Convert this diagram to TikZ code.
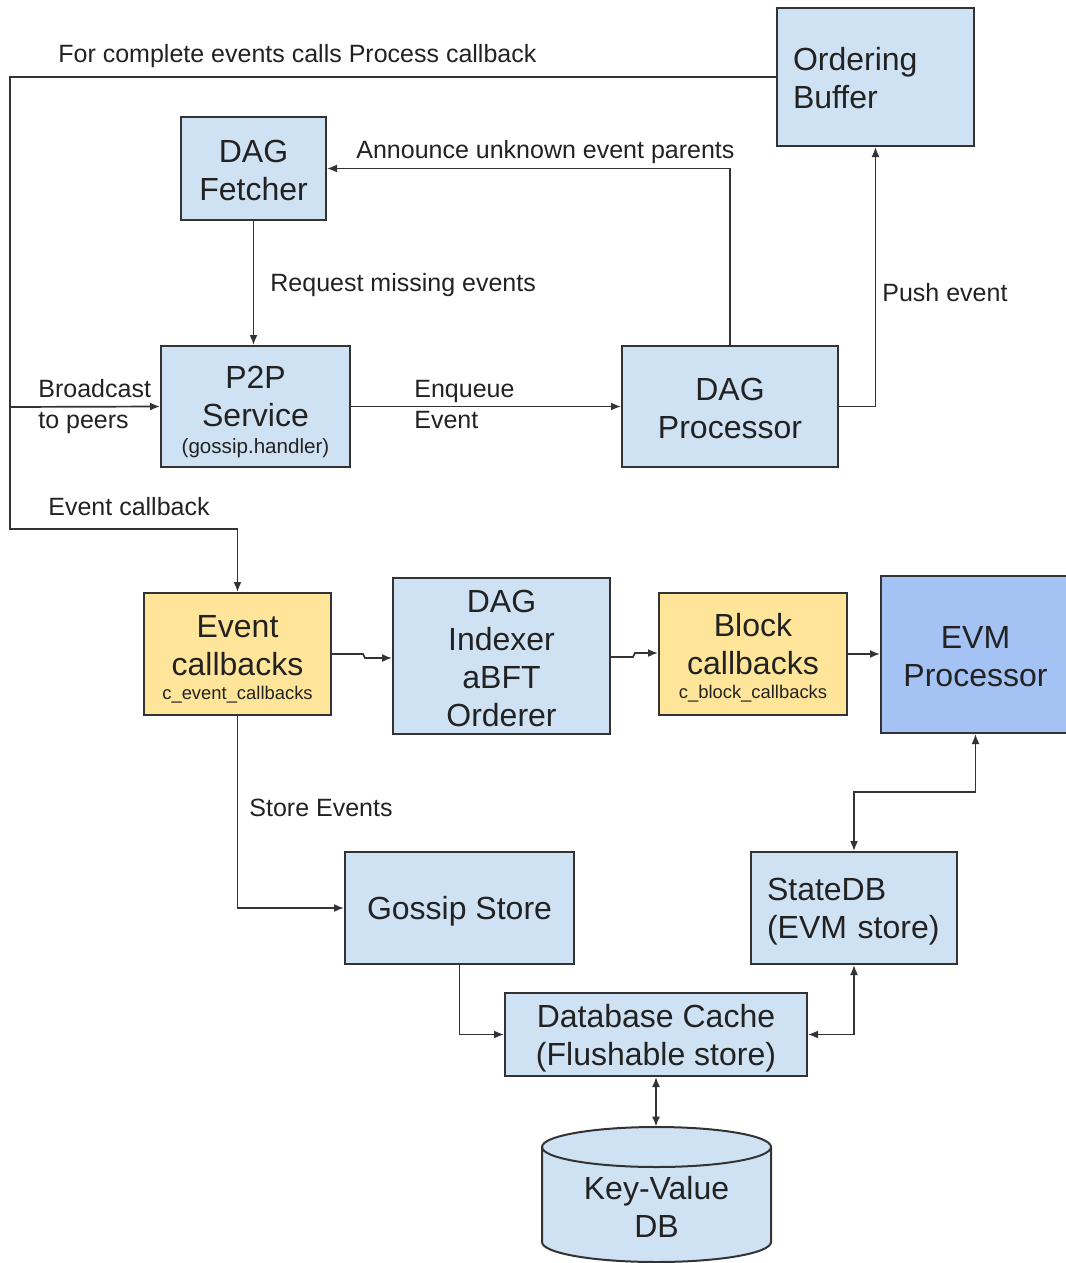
\documentclass[tikz,border=0pt]{standalone}
\usepackage{fontspec}
\setmainfont{Liberation Sans}
\usetikzlibrary{arrows.meta}
\definecolor{lblue}{HTML}{CFE2F3}
\definecolor{cblue}{HTML}{A4C2F4}
\definecolor{lyellow}{HTML}{FFE599}
\definecolor{edgecol}{HTML}{333333}
\definecolor{txt}{HTML}{222222}
\newcommand{\boxfont}{\fontsize{16}{19}\selectfont}
\newcommand{\lblfont}{\fontsize{12.5}{15.5}\selectfont}
\newcommand{\subfont}{\fontsize{10.3}{12}\selectfont}
\newcommand{\cbfont}{\fontsize{9.2}{11}\selectfont}
\begin{document}
\begin{tikzpicture}[x=0.5pt,y=-0.5pt,
  blk/.style={draw=edgecol, line width=1pt, fill=lblue, inner sep=0pt},
  bt/.style={font=\boxfont, text=txt, align=center, inner sep=0pt},
  conn/.style={draw=edgecol, line width=0.85pt, -{Latex[length=5pt,width=4pt]}},
  bidir/.style={draw=edgecol, line width=0.85pt, {Latex[length=5pt,width=4pt]}-{Latex[length=5pt,width=4pt]}},
  lbl/.style={font=\lblfont, text=txt, inner sep=0pt, anchor=west, align=left}]
\fill[white] (0,0) rectangle (1065,1263);
\useasboundingbox (0,0) rectangle (1065,1263);

% boxes
\node[blk, minimum width=98.5pt, minimum height=69pt,
  label={[bt, align=left, text width=82.5pt, yshift=-0.5pt]center:Ordering\\Buffer}] (ob) at (875.5,77) {};
\node[blk, minimum width=72.5pt, minimum height=51.5pt,
  label={[bt, yshift=-1pt]center:DAG\\Fetcher}] (df) at (253.5,168.5) {};
\node[blk, minimum width=94.5pt, minimum height=60.5pt,
  label={[bt, yshift=-2.5pt]center:P2P\\Service\\[-5.5pt]{\subfont (gossip.handler)}}] (p2p) at (255.5,406.5) {};
\node[blk, minimum width=108pt, minimum height=60.5pt,
  label={[bt, yshift=-0.75pt]center:DAG\\Processor}] (dp) at (730,406.5) {};
\node[blk, fill=lyellow, minimum width=93.5pt, minimum height=61pt,
  label={[bt, yshift=-2.5pt]center:Event\\callbacks\\[-7pt]{\cbfont c\_event\_callbacks}}] (ec) at (237.5,654) {};
\node[blk, minimum width=108.5pt, minimum height=78pt,
  label={[bt, yshift=-1pt]center:DAG\\Indexer\\aBFT\\Orderer}] (idx) at (501.5,656) {};
\node[blk, fill=lyellow, minimum width=94pt, minimum height=61pt,
  label={[bt, yshift=-2pt]center:Block\\callbacks\\[-7pt]{\cbfont c\_block\_callbacks}}] (bc) at (753,654) {};
\node[blk, fill=cblue, minimum width=94.5pt, minimum height=78.5pt,
  label={[bt, yshift=-1.25pt]center:EVM\\Processor}] (evm) at (975.5,654.5) {};
\node[blk, minimum width=114.5pt, minimum height=56pt,
  label={[bt, yshift=-1.5pt]center:Gossip Store}] (gs) at (459.5,908) {};
\node[blk, minimum width=103pt, minimum height=56pt,
  label={[bt, align=left, text width=87pt, yshift=-2pt]center:StateDB\\(EVM store)}] (sdb) at (854,908) {};
\node[blk, minimum width=151pt, minimum height=41.5pt,
  label={[bt, yshift=-2pt]center:Database Cache\\(Flushable store)}] (dbc) at (656,1034.5) {};

% cylinder
\draw[draw=edgecol, line width=1pt, fill=lblue]
  (542,1147) -- (542,1242) arc[start angle=180, end angle=360, x radius=57.25pt, y radius=10pt]
  -- (771,1147) arc[start angle=0, end angle=180, x radius=57.25pt, y radius=10pt] -- cycle;
\draw[draw=edgecol, line width=1pt] (542,1147) arc[start angle=180, end angle=360, x radius=57.25pt, y radius=10pt];
\node[minimum width=114.5pt, minimum height=67.5pt, inner sep=0pt,
  label={[bt, yshift=-6pt]center:Key-Value\\DB}] (kv) at (656.5,1194.5) {};

% connectors
\coordinate (bus) at (10,407);
\draw[conn] (ob.west) -- (10,77) -- (10,529) -| (ec.north);
\draw[conn] (bus) -- (p2p.west);
\draw[conn] (dp.north) |- (df.east);
\draw[conn] (df.south) -- (df.south |- p2p.north);
\draw[conn] (p2p.east) -- (dp.west);
\draw[conn] (dp.east) -| (ob.south);
\draw[conn] (ec.east) -- (363,654) -- (365,658) -- (idx.west |- 0,658);
\draw[conn] (idx.east |- 0,657) -- (633,657) -- (635,653) -- (bc.west |- 0,653);
\draw[conn] (bc.east) -- (evm.west |- bc.east);
\draw[conn] (ec.south) |- (gs.west);
\draw[bidir] (evm.south) -- ++(0,58) -| (sdb.north);
\draw[bidir] (sdb.south) |- (dbc.east);
\draw[conn] (gs.south) |- (dbc.west);
\draw[bidir] (dbc.south) -- (dbc.south |- kv.north);

% labels
\node[lbl] (l1) at (58,56) {For complete events calls Process callback};
\node[lbl] (l2) at (356,152) {Announce unknown event parents};
\node[lbl] (l3) at (270,285) {Request missing events};
\node[lbl] (l4) at (882,293) {Push event};
\node[lbl] (l5) at (38,406.5) {Broadcast\\to peers};
\node[lbl] (l6) at (414,404.5) {Enqueue\\Event};
\node[lbl] (l7) at (48,507) {Event callback};
\node[lbl] (l8) at (249,808) {Store Events};
\end{tikzpicture}
\end{document}
